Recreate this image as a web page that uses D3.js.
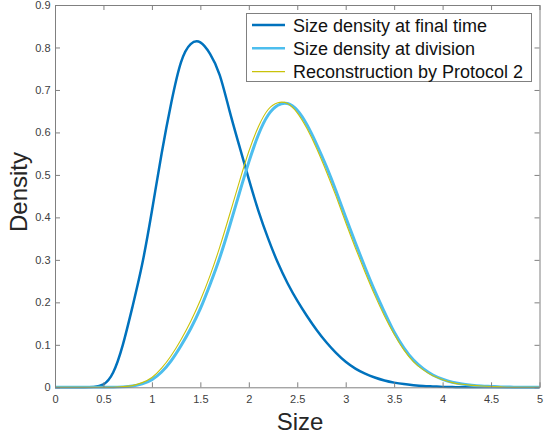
<!DOCTYPE html>
<html><head><meta charset="utf-8">
<script src="https://cdn.jsdelivr.net/npm/d3@7"></script>
<style>body{margin:0;background:#fff}svg{display:block}</style>
</head><body><svg id="c" width="544" height="440"></svg>
<script>
const xs = d3.range(0, 51).map(i => +(i * 0.1).toFixed(1));
const finalTime = [0,0,0,0,0.001,0.007,0.035,0.10,0.19,0.29,0.415,0.55,0.67,0.765,0.808,0.812,0.785,0.735,0.652,0.57,0.49,0.415,0.35,0.293,0.245,0.204,0.168,0.135,0.106,0.081,0.060,0.044,0.032,0.023,0.016,0.011,0.0075,0.005,0.003,0.002,0.001,0.0005,0,0,0,0,0,0,0,0,0];
const division = [0,0,0,0,0,0,0,0.001,0.003,0.008,0.018,0.036,0.063,0.098,0.138,0.185,0.242,0.305,0.378,0.455,0.53,0.595,0.641,0.664,0.668,0.652,0.618,0.572,0.52,0.462,0.40,0.34,0.282,0.227,0.177,0.13,0.093,0.064,0.044,0.029,0.019,0.012,0.008,0.005,0.003,0.002,0.001,0.0005,0,0,0];
const reconstruction = [0,0,0,0,0,0,0,0.0015,0.004,0.011,0.023,0.045,0.075,0.112,0.155,0.205,0.263,0.33,0.405,0.482,0.555,0.614,0.654,0.670,0.668,0.646,0.609,0.562,0.508,0.45,0.388,0.328,0.271,0.217,0.168,0.125,0.088,0.06,0.041,0.027,0.018,0.011,0.007,0.0045,0.003,0.002,0.001,0,0,0,0];
const seriesNames = ["Size density at final time","Size density at division","Reconstruction by Protocol 2"];
const xTicks = [0,0.5,1,1.5,2,2.5,3,3.5,4,4.5,5];
const yTicks = [0,0.1,0.2,0.3,0.4,0.5,0.6,0.7,0.8,0.9];

const svg = d3.select("#c");
const L = 55, R = 539.5, T = 5, B = 387.3;
const x = d3.scaleLinear().domain([0,5]).range([L,R]);
const y = d3.scaleLinear().domain([0,0.9]).range([B,T]);
const axisCol = "#808080", textCol = "#404040";
const FF = "'Liberation Sans', Arial, Helvetica, sans-serif";

svg.append("defs").append("clipPath").attr("id","clip")
  .append("rect").attr("x",L).attr("y",T).attr("width",R-L).attr("height",B-T+1.5);

const series = [
  {name: seriesNames[0], vals: finalTime, color: "#0072BD", w: 2.5},
  {name: seriesNames[1], vals: division, color: "#4DBEEE", w: 3},
  {name: seriesNames[2], vals: reconstruction, color: "#C9C20A", w: 1.1}
];
const line = d3.line().x((d,i)=>x(xs[i])).y(d=>y(d)).curve(d3.curveNatural);
const g = svg.append("g").attr("clip-path","url(#clip)");
series.forEach(s => {
  g.append("path").attr("d", line(s.vals)).attr("fill","none")
   .attr("stroke", s.color).attr("stroke-width", s.w).attr("stroke-linejoin","round");
});

const axB = d3.axisBottom(x).tickValues(xTicks).tickSizeInner(-5).tickSizeOuter(0).tickPadding(8.3).tickFormat(d3.format("~g"));
const axT = d3.axisTop(x).tickValues(xTicks).tickSizeInner(-5).tickSizeOuter(0).tickFormat("");
const axL = d3.axisLeft(y).tickValues(yTicks).tickSizeInner(-5).tickSizeOuter(0).tickPadding(4.5).tickFormat(d3.format("~g"));
const axR = d3.axisRight(y).tickValues(yTicks).tickSizeInner(-5).tickSizeOuter(0).tickFormat("");
function style(sel){
  sel.selectAll(".domain").attr("stroke",axisCol);
  sel.selectAll(".tick line").attr("stroke",axisCol);
  sel.selectAll("text").attr("fill",textCol).style("font-family",FF).style("font-size","11px");
}
svg.append("g").attr("transform",`translate(0,${B})`).call(axB).call(style);
svg.append("g").attr("transform",`translate(0,${T})`).call(axT).call(style);
svg.append("g").attr("transform",`translate(${L},0)`).call(axL).call(style);
svg.append("g").attr("transform",`translate(${R},0)`).call(axR).call(style);

svg.append("text").attr("x",300).attr("y",430).attr("text-anchor","middle")
  .style("font-family",FF).style("font-size","24px").attr("fill","#262626").text("Size");
svg.append("text").attr("transform",`translate(27,192) rotate(-90)`).attr("text-anchor","middle")
  .style("font-family",FF).style("font-size","24px").attr("fill","#262626").text("Density");

const lg = svg.append("g");
lg.append("rect").attr("x",246.5).attr("y",13.5).attr("width",285).attr("height",68)
  .attr("fill","#fff").attr("stroke",axisCol).attr("stroke-width",1);
series.forEach((s,i)=>{
  const yy = 25 + i*23.3;
  lg.append("line").attr("x1",252).attr("x2",285).attr("y1",yy).attr("y2",yy)
    .attr("stroke",s.color).attr("stroke-width", i===2 ? 1.1 : 2.5);
  lg.append("text").attr("x",293).attr("y",yy+6.6).attr("fill","#111")
    .style("font-family",FF).style("font-size","18px").text(s.name);
});
</script></body></html>
